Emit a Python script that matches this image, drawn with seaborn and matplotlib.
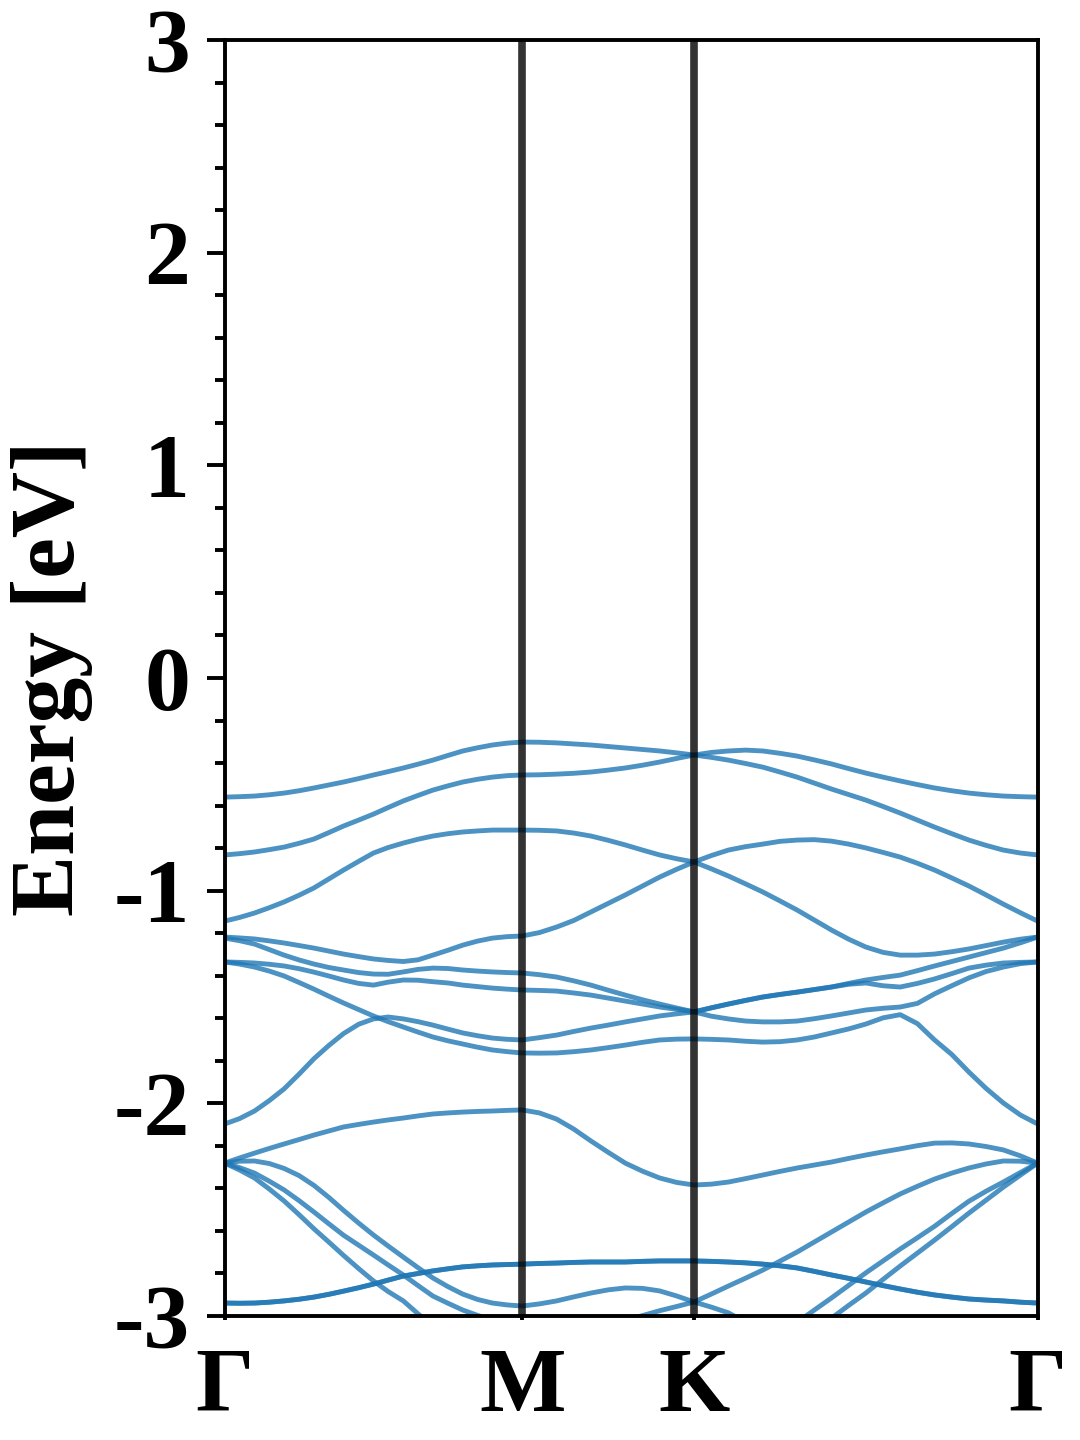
import numpy as np
import pandas as pd
import matplotlib
matplotlib.use('Agg')
import matplotlib.pyplot as plt
from matplotlib.ticker import MultipleLocator
import seaborn as sns

sns.set_style('ticks')
plt.rcParams['font.family'] = ['Liberation Serif', 'DejaVu Serif']
plt.rcParams['font.weight'] = 'bold'
plt.rcParams['axes.unicode_minus'] = False
for key in ['text.color', 'axes.labelcolor', 'xtick.color', 'ytick.color', 'axes.edgecolor']:
    plt.rcParams[key] = 'black'

# high-symmetry path (distance along Γ-M-K-Γ)
kpt_pos = [0.0, 0.866, 1.366, 2.366]
kpt_labels = ['Γ', 'M', 'K', 'Γ']

# sampled k along the path: Γ-M (21 pts), M-K (10 more), K-Γ (20 more)
kpath = [0.000, 0.043, 0.087, 0.130, 0.173, 0.217, 0.260, 0.303, 0.346, 0.390, 0.433,
         0.476, 0.520, 0.563, 0.606, 0.650, 0.693, 0.736, 0.779, 0.823, 0.866,
         0.916, 0.966, 1.016, 1.066, 1.116, 1.166, 1.216, 1.266, 1.316, 1.366,
         1.416, 1.466, 1.516, 1.566, 1.616, 1.666, 1.716, 1.766, 1.816, 1.866,
         1.916, 1.966, 2.016, 2.066, 2.116, 2.166, 2.216, 2.266, 2.316, 2.366]

# band energies [eV] (values below -3 are outside the window)
band_A = [-0.560, -0.558, -0.555, -0.549, -0.541, -0.530, -0.517, -0.503, -0.489, -0.473, -0.456,
          -0.440, -0.423, -0.405, -0.386, -0.364, -0.343, -0.328, -0.315, -0.306, -0.301,
          -0.302, -0.305, -0.310, -0.315, -0.322, -0.329, -0.336, -0.343, -0.352, -0.362,
          -0.373, -0.386, -0.402, -0.419, -0.442, -0.466, -0.494, -0.522, -0.548, -0.574,
          -0.604, -0.635, -0.668, -0.701, -0.732, -0.762, -0.787, -0.809, -0.823, -0.832]
band_B = [-0.832, -0.826, -0.818, -0.807, -0.795, -0.777, -0.757, -0.727, -0.696, -0.668, -0.640,
          -0.609, -0.578, -0.552, -0.527, -0.507, -0.489, -0.476, -0.466, -0.459, -0.456,
          -0.455, -0.452, -0.448, -0.442, -0.433, -0.423, -0.410, -0.395, -0.378, -0.362,
          -0.350, -0.343, -0.339, -0.343, -0.354, -0.367, -0.385, -0.404, -0.426, -0.447,
          -0.466, -0.484, -0.501, -0.517, -0.530, -0.541, -0.549, -0.555, -0.558, -0.560]
band_C = [-1.143, -1.126, -1.105, -1.080, -1.053, -1.021, -0.987, -0.945, -0.903, -0.862, -0.823,
          -0.797, -0.776, -0.758, -0.743, -0.732, -0.724, -0.719, -0.715, -0.715, -0.715,
          -0.716, -0.719, -0.729, -0.743, -0.763, -0.785, -0.809, -0.832, -0.850, -0.865,
          -0.897, -0.931, -0.968, -1.006, -1.048, -1.091, -1.138, -1.185, -1.228, -1.265,
          -1.290, -1.303, -1.303, -1.298, -1.287, -1.274, -1.258, -1.242, -1.228, -1.218]
band_D = [-1.218, -1.222, -1.227, -1.236, -1.246, -1.258, -1.270, -1.284, -1.298, -1.310, -1.321,
          -1.328, -1.333, -1.325, -1.303, -1.280, -1.256, -1.237, -1.223, -1.216, -1.213,
          -1.197, -1.171, -1.140, -1.100, -1.060, -1.020, -0.978, -0.936, -0.899, -0.865,
          -0.835, -0.809, -0.793, -0.781, -0.768, -0.762, -0.760, -0.767, -0.781, -0.799,
          -0.820, -0.842, -0.871, -0.903, -0.940, -0.978, -1.020, -1.063, -1.104, -1.143]
band_E = [-1.223, -1.235, -1.251, -1.277, -1.303, -1.326, -1.345, -1.361, -1.373, -1.385, -1.392,
          -1.393, -1.382, -1.370, -1.364, -1.366, -1.373, -1.378, -1.382, -1.385, -1.387,
          -1.395, -1.406, -1.424, -1.444, -1.468, -1.491, -1.513, -1.533, -1.552, -1.570,
          -1.590, -1.603, -1.613, -1.617, -1.617, -1.613, -1.602, -1.589, -1.575, -1.561,
          -1.553, -1.547, -1.530, -1.485, -1.447, -1.410, -1.380, -1.359, -1.343, -1.335]
band_F = [-1.335, -1.337, -1.340, -1.346, -1.354, -1.367, -1.383, -1.401, -1.420, -1.436, -1.444,
          -1.430, -1.420, -1.421, -1.428, -1.434, -1.444, -1.451, -1.458, -1.463, -1.467,
          -1.469, -1.472, -1.481, -1.491, -1.505, -1.519, -1.533, -1.547, -1.558, -1.570,
          -1.551, -1.533, -1.516, -1.500, -1.488, -1.477, -1.465, -1.453, -1.440, -1.434,
          -1.447, -1.453, -1.436, -1.415, -1.390, -1.364, -1.350, -1.340, -1.337, -1.335]
band_G = [-1.335, -1.345, -1.359, -1.378, -1.401, -1.432, -1.463, -1.496, -1.528, -1.559, -1.589,
          -1.616, -1.641, -1.665, -1.688, -1.706, -1.721, -1.736, -1.749, -1.757, -1.763,
          -1.764, -1.763, -1.757, -1.749, -1.738, -1.726, -1.713, -1.702, -1.698, -1.697,
          -1.699, -1.702, -1.708, -1.712, -1.710, -1.702, -1.688, -1.669, -1.650, -1.627,
          -1.598, -1.583, -1.625, -1.702, -1.770, -1.853, -1.930, -1.998, -2.055, -2.097]
band_H = [-2.097, -2.072, -2.036, -1.987, -1.932, -1.862, -1.790, -1.728, -1.672, -1.628, -1.603,
          -1.594, -1.603, -1.616, -1.632, -1.651, -1.669, -1.682, -1.693, -1.699, -1.702,
          -1.691, -1.679, -1.662, -1.646, -1.632, -1.617, -1.603, -1.589, -1.579, -1.570,
          -1.551, -1.533, -1.516, -1.500, -1.488, -1.477, -1.465, -1.453, -1.436, -1.420,
          -1.408, -1.397, -1.376, -1.354, -1.333, -1.312, -1.291, -1.270, -1.245, -1.218]
band_I = [-2.281, -2.257, -2.234, -2.212, -2.191, -2.170, -2.149, -2.130, -2.111, -2.099, -2.088,
          -2.078, -2.069, -2.059, -2.050, -2.045, -2.041, -2.038, -2.036, -2.033, -2.031,
          -2.045, -2.074, -2.121, -2.177, -2.230, -2.281, -2.319, -2.351, -2.372, -2.384,
          -2.380, -2.370, -2.354, -2.337, -2.320, -2.304, -2.290, -2.276, -2.259, -2.243,
          -2.228, -2.214, -2.199, -2.187, -2.186, -2.191, -2.203, -2.219, -2.247, -2.281]
band_J = [-2.281, -2.272, -2.271, -2.283, -2.306, -2.340, -2.386, -2.442, -2.503, -2.563, -2.619,
          -2.671, -2.723, -2.773, -2.821, -2.862, -2.897, -2.922, -2.939, -2.948, -2.953,
          -2.943, -2.929, -2.910, -2.892, -2.877, -2.868, -2.870, -2.882, -2.906, -2.934,
          -2.958, -2.985, -3.030, -3.070, -3.100, -3.120, -3.070, -3.010, -2.950, -2.892,
          -2.828, -2.765, -2.704, -2.643, -2.580, -2.516, -2.455, -2.394, -2.337, -2.281]
band_K = [-2.281, -2.302, -2.328, -2.366, -2.407, -2.458, -2.511, -2.566, -2.620, -2.667, -2.713,
          -2.760, -2.807, -2.857, -2.906, -2.940, -2.972, -2.997, -3.020, -3.040, -3.060,
          -3.070, -3.080, -3.075, -3.060, -3.040, -3.020, -2.998, -2.975, -2.955, -2.934,
          -2.897, -2.859, -2.822, -2.784, -2.742, -2.699, -2.652, -2.605, -2.558, -2.511,
          -2.468, -2.426, -2.390, -2.356, -2.328, -2.304, -2.285, -2.271, -2.272, -2.281]
band_L = [-2.281, -2.313, -2.351, -2.403, -2.459, -2.524, -2.590, -2.652, -2.715, -2.777, -2.835,
          -2.885, -2.929, -2.990, -3.050, -3.100, -3.150, -3.190, -3.220, -3.240, -3.250,
          -3.270, -3.280, -3.290, -3.300, -3.310, -3.320, -3.325, -3.330, -3.340, -3.350,
          -3.330, -3.300, -3.240, -3.180, -3.100, -3.030, -2.972, -2.915, -2.856, -2.797,
          -2.741, -2.685, -2.632, -2.578, -2.518, -2.460, -2.413, -2.370, -2.325, -2.281]
band_N = [-2.939, -2.940, -2.939, -2.935, -2.929, -2.921, -2.911, -2.898, -2.883, -2.867, -2.850,
          -2.831, -2.812, -2.800, -2.788, -2.778, -2.769, -2.764, -2.760, -2.758, -2.756,
          -2.753, -2.751, -2.748, -2.746, -2.746, -2.746, -2.743, -2.741, -2.741, -2.741,
          -2.743, -2.746, -2.750, -2.756, -2.764, -2.774, -2.790, -2.807, -2.823, -2.840,
          -2.857, -2.873, -2.888, -2.901, -2.911, -2.920, -2.925, -2.929, -2.935, -2.939]

bands = {'A': band_A, 'B': band_B, 'C': band_C, 'D': band_D, 'E': band_E,
         'F': band_F, 'G': band_G, 'H': band_H, 'I': band_I, 'J': band_J,
         'K': band_K, 'L': band_L, 'N1': band_N, 'N2': band_N}  # N is doubly degenerate

rows = []
for name, en in bands.items():
    assert len(en) == len(kpath), name
    for k, e in zip(kpath, en):
        rows.append({'band': name, 'k': k, 'E': e})
df = pd.DataFrame(rows)

fig = plt.figure(figsize=(10.8, 14.4), dpi=100)
ax = fig.add_axes([0.208, 0.0861, 0.7528, 0.8861])

sns.lineplot(data=df, x='k', y='E', units='band', estimator=None, sort=False,
             color='tab:blue', alpha=0.8, lw=3.5, ax=ax, legend=False)

for kp in kpt_pos[1:-1]:
    ax.axvline(kp, color='k', alpha=0.8, lw=5.5, zorder=3)

ax.set_xlim(kpt_pos[0], kpt_pos[-1])
ax.set_ylim(-3, 3)
ax.set_xticks(kpt_pos)
ax.set_xticklabels(kpt_labels)
ax.set_yticks([-3, -2, -1, 0, 1, 2, 3])
ax.set_yticklabels(['-3', '-2', '-1', '0', '1', '2', '3'])
ax.yaxis.set_minor_locator(MultipleLocator(0.2))
ax.set_xlabel('')
ax.set_ylabel('Energy [eV]', fontsize=66, fontweight='bold')
ax.yaxis.set_label_coords(-0.162, 0.5)

ax.tick_params(axis='y', which='major', length=13, width=2.8, pad=12, labelsize=66)
ax.tick_params(axis='y', which='minor', length=7, width=2.8)
ax.tick_params(axis='x', which='major', length=3, width=2.8, pad=20, labelsize=66)
for lab in ax.get_xticklabels() + ax.get_yticklabels():
    lab.set_fontweight('bold')
for sp in ax.spines.values():
    sp.set_linewidth(2.8)
    sp.set_color('k')

fig.savefig('out.png', dpi=100)
